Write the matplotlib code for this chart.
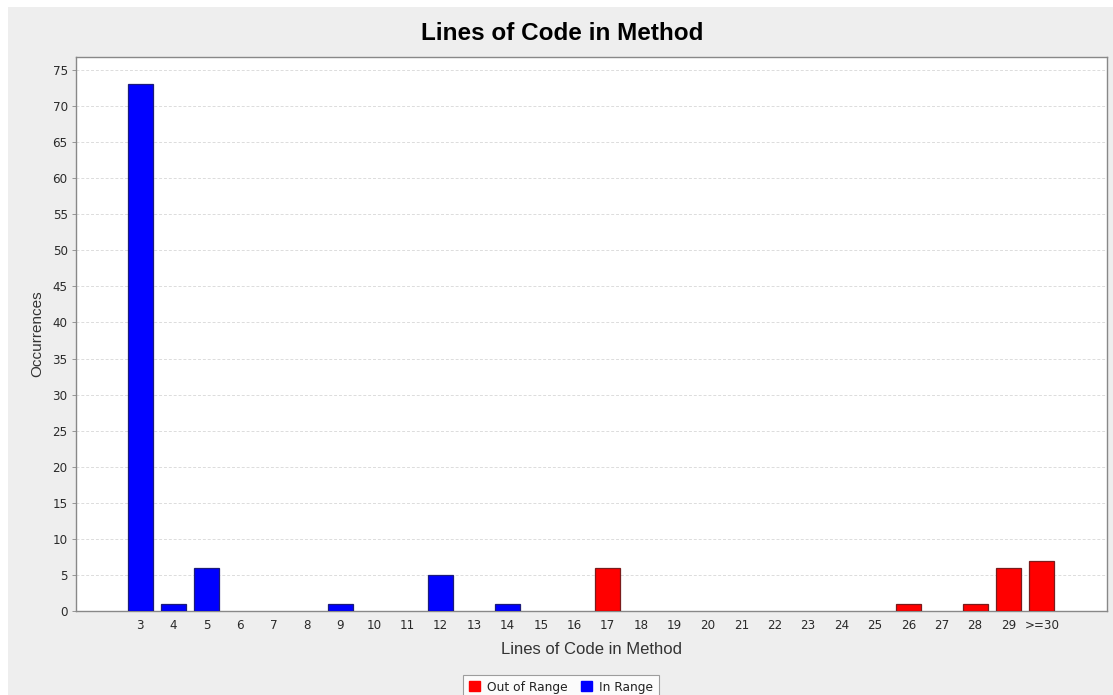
import matplotlib
matplotlib.use("Agg")
import matplotlib.pyplot as plt
from matplotlib.patches import Rectangle, Patch

plt.rcParams['font.family'] = ['Liberation Sans', 'DejaVu Sans']

categories = ['3', '4', '5', '6', '7', '8', '9', '10', '11', '12', '13', '14', '15',
              '16', '17', '18', '19', '20', '21', '22', '23', '24', '25', '26', '27',
              '28', '29', '>=30']
in_range = [73, 1, 6, 0, 0, 0, 1, 0, 0, 5, 0, 1, 0, 0, 0, 0, 0, 0, 0, 0, 0, 0, 0, 0, 0, 0, 0, 0]
out_of_range = [0, 0, 0, 0, 0, 0, 0, 0, 0, 0, 0, 0, 0, 0, 6, 0, 0, 0, 0, 0, 0, 0, 0, 1, 0, 1, 6, 7]
y_ticks = list(range(0, 80, 5))

W, H = 1113, 695
fig = plt.figure(figsize=(W / 100, H / 100), dpi=100, facecolor='white')
fig.patches.append(Rectangle((8 / W, 0), 1 - 8 / W, 1 - 7 / H, transform=fig.transFigure,
                             facecolor='#eeeeee', edgecolor='none', zorder=-10))

ax = fig.add_axes([76 / W, 1 - 611 / H, (1107 - 76) / W, (611 - 57) / H])
ax.set_facecolor('white')

x = list(range(len(categories)))
blue = [i for i in x if in_range[i] > 0]
red = [i for i in x if out_of_range[i] > 0]
ax.bar(blue, [in_range[i] for i in blue], width=0.75, color='#0000ff',
       edgecolor='#1c1c7a', linewidth=0.9, zorder=3)
ax.bar(red, [out_of_range[i] for i in red], width=0.75, color='#ff0000',
       edgecolor='#7a1c1c', linewidth=0.9, zorder=3)

ax.set_xlim(-1.92, len(categories) - 1 + 1.95)
ax.set_ylim(0, 76.8)
ax.set_yticks(y_ticks)
ax.set_xticks(x)
ax.set_xticklabels(categories)
for lbl in ax.get_xticklabels() + ax.get_yticklabels():
    lbl.set_fontfamily('DejaVu Sans')
    lbl.set_fontsize(8.6)
ax.tick_params(axis='y', length=3, width=0.6, color='#888888', pad=3, labelcolor='#2a2a2a')
ax.tick_params(axis='x', length=0, pad=6, labelcolor='#2a2a2a')

ax.yaxis.grid(True, color='#dcdcdc', linestyle=(0, (3, 2)), linewidth=0.7, zorder=0)
ax.xaxis.grid(False)
for s in ax.spines.values():
    s.set_color('#888888')
    s.set_linewidth(1.0)

ax.set_xlabel('Lines of Code in Method', fontsize=12, color='#333333', labelpad=7)
ax.set_ylabel('Occurrences', fontsize=11, color='#333333', labelpad=6)

fig.text(0.505, 1 - 33 / H, 'Lines of Code in Method', ha='center', va='center',
         fontsize=17.5, fontweight='bold', color='black')

handles = [Patch(facecolor='#ff0000', edgecolor='#ff0000', label='Out of Range'),
           Patch(facecolor='#0000ff', edgecolor='#0000ff', label='In Range')]
leg = fig.legend(handles=handles, loc='upper center', bbox_to_anchor=(0.504, 1 - 675 / H),
                 ncol=2, frameon=True, fancybox=False,
                 prop={'family': 'DejaVu Sans', 'size': 8.8},
                 handlelength=0.9, handleheight=0.9, handletextpad=0.6,
                 columnspacing=1.1, borderpad=0.45, borderaxespad=0)
for t in leg.get_texts():
    t.set_color('#222222')
leg.get_frame().set_edgecolor('#888888')
leg.get_frame().set_linewidth(0.8)
leg.get_frame().set_facecolor('white')

fig.savefig('out.png', dpi=100, facecolor=fig.get_facecolor())
